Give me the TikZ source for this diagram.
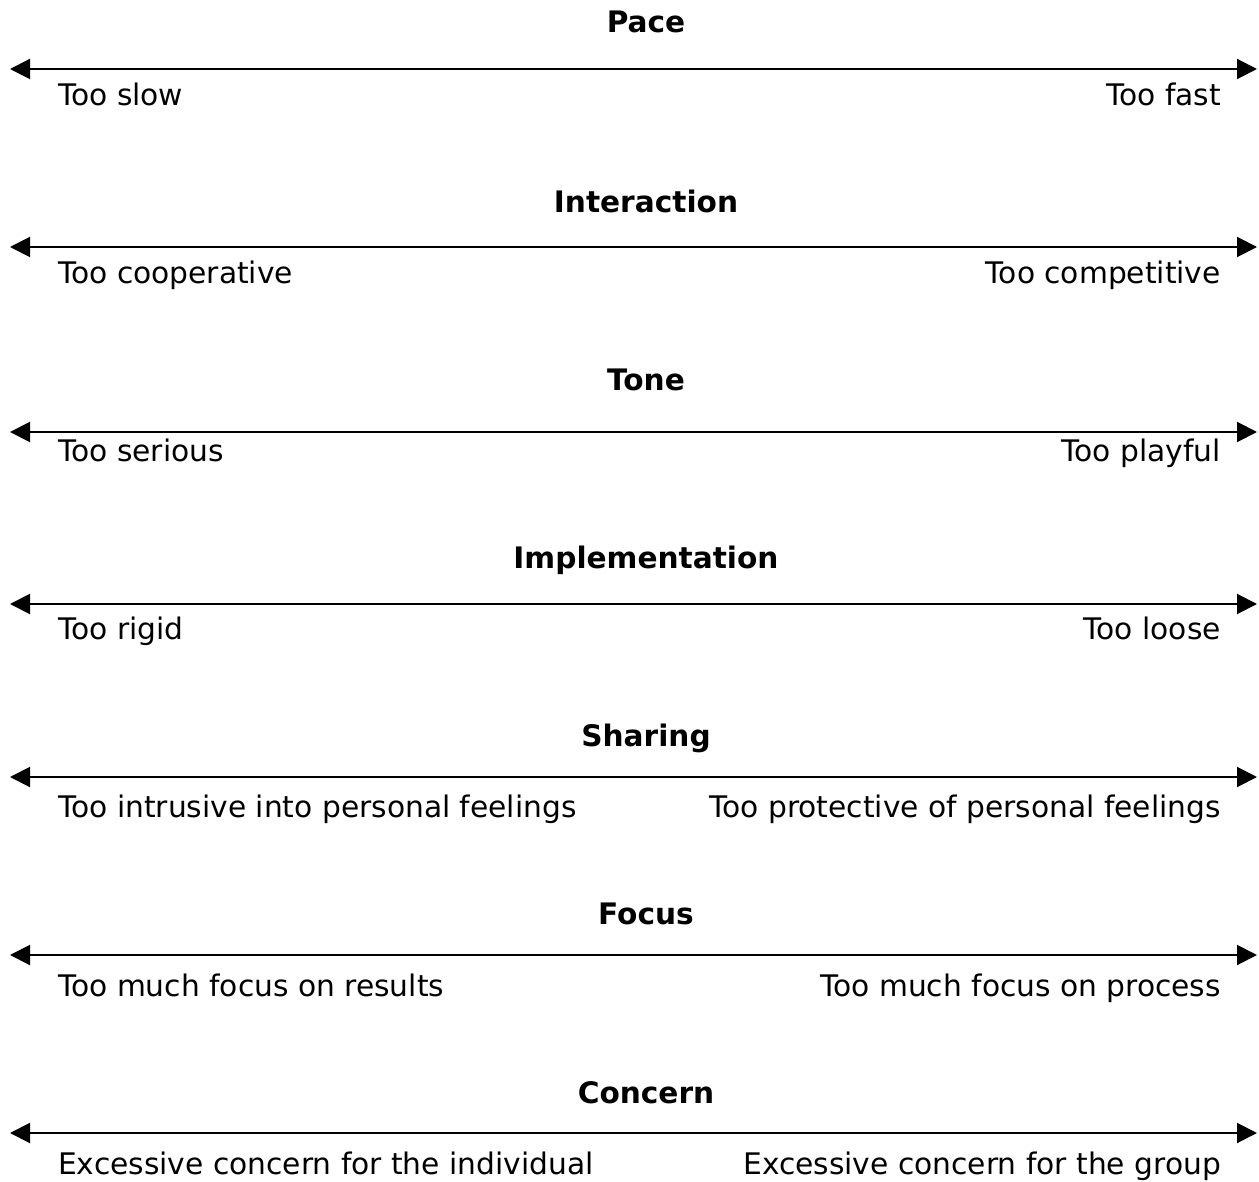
\documentclass[tikz,border=0pt]{standalone}
\usepackage{fontspec}
\setmainfont{DejaVu Sans}
\usetikzlibrary{arrows.meta}
\tikzset{
  axis/.style={line width=2pt, {Triangle[length=20pt,width=20pt]}-{Triangle[length=20pt,width=20pt]}},
  ttl/.style={anchor=base, inner sep=0pt, font=\bfseries\fontsize{29.6}{34}\selectfont},
  lbl/.style={inner sep=0pt, font=\fontsize{29.7}{34}\selectfont}
}
\begin{document}
\begin{tikzpicture}[x=1pt,y=-1pt]
\useasboundingbox (0,0) rectangle (1259,1182);
\foreach \n/\t/\ty/\ly/\lb/\a/\b in {
  1/Pace/32.5/69/105.5/Too slow/Too fast,
  2/Interaction/212.5/247/283.5/Too cooperative/Too competitive,
  3/Tone/390.5/432/461.5/Too serious/Too playful,
  4/Implementation/568.5/604/639.5/Too rigid/Too loose,
  5/Sharing/746.5/777/817.5/Too intrusive into personal feelings/Too protective of personal feelings,
  6/Focus/924.5/955/996.5/Too much focus on results/Too much focus on process,
  7/Concern/1103.5/1133/1174.5/Excessive concern for the individual/Excessive concern for the group}
{
  \node[ttl] (t\n) at (646,\ty) {\t};
  \coordinate (l\n) at (10,\ly);
  \coordinate (r\n) at (1257,\ly);
  \draw[axis] (l\n) -- (r\n);
  \node[lbl, anchor=base west] (a\n) at (58,\lb) {\a};
  \node[lbl, anchor=base east] (b\n) at (1221,\lb) {\b};
}
\end{tikzpicture}
\end{document}
